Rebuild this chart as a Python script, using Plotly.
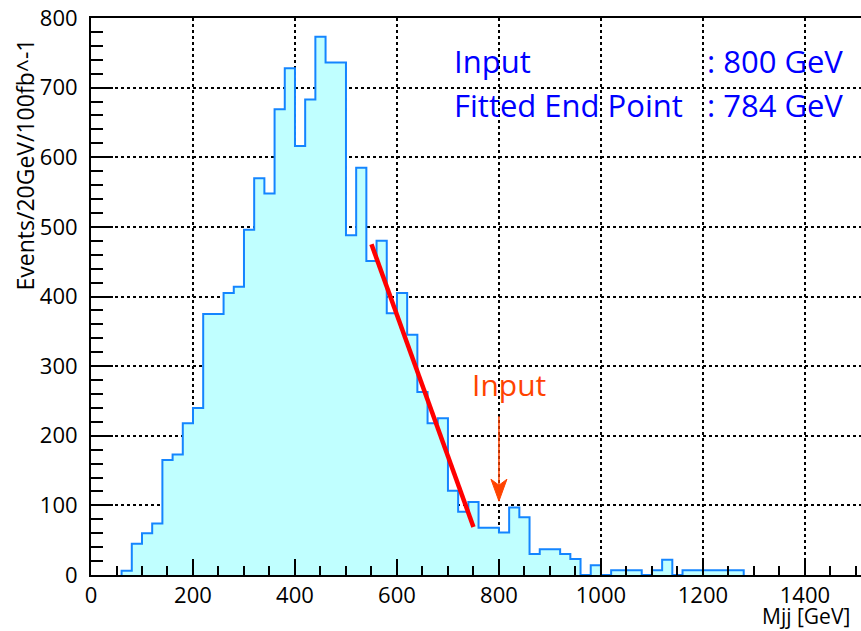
import numpy as np
import plotly.graph_objects as go

# Dijet invariant mass spectrum, 20 GeV bins starting at 60 GeV
bin_start = 60
bin_width = 20
counts = [
    6, 45, 60, 74, 165, 173, 218, 240, 375, 375,
    405, 414, 496, 570, 548, 669, 728, 616, 683, 773,
    736, 736, 488, 585, 451, 480, 376, 405, 345, 263,
    218, 225, 121, 91, 105, 68, 68, 61, 97, 83,
    30, 37, 37, 30, 23, 0, 14, 0, 7, 7,
    7, 0, 7, 22, 0, 7, 7, 7, 7, 7,
    7,
]

# Linear end-point fit of the falling edge
input_mass = 800
fit_end = 784
fit_slope = 2.03          # events per GeV
fit_range = [550, 750]

# Arrow marking the input mass
arrow_tail = 228
arrow_tip = 106

x_ticks = [0, 200, 400, 600, 800, 1000, 1200, 1400]
y_ticks = [0, 100, 200, 300, 400, 500, 600, 700, 800]

FONT = "Open Sans"
HIST_LINE = "#1485ff"
HIST_FILL = "#c0ffff"
TEXT_BLUE = "#0000ff"
ORANGE = "#ff4300"

# step outline of the histogram
lefts = bin_start + bin_width * np.arange(len(counts))
right_end = lefts[-1] + bin_width
xs = [lefts[0]] + list(lefts) + [right_end, right_end]
ys = [0] + list(counts) + [counts[-1], 0]

fig = go.Figure()
fig.add_trace(go.Scatter(
    x=xs, y=ys, mode="lines", line_shape="hv",
    line=dict(color=HIST_LINE, width=2),
    fill="tozeroy", fillcolor=HIST_FILL, hoverinfo="skip",
))

fx = np.array(fit_range, dtype=float)
fy = fit_slope * (fit_end - fx)
fig.add_trace(go.Scatter(
    x=fx, y=fy, mode="lines",
    line=dict(color="#ff0000", width=4.5), hoverinfo="skip",
))

# arrow shaft and head
fig.add_shape(type="line", xref="x", yref="y",
              x0=input_mass, x1=input_mass, y0=arrow_tail, y1=arrow_tip + 10,
              line=dict(color=ORANGE, width=1.5))
fig.add_shape(type="path", xref="x", yref="y",
              xsizemode="pixel", ysizemode="pixel",
              xanchor=input_mass, yanchor=arrow_tip,
              path="M0,0 L-8,22 L0,16 L8,22 Z",
              fillcolor=ORANGE, line=dict(color=ORANGE, width=1))

annotations = [
    dict(text="Input", x=820, y=274, xref="x", yref="y",
         font=dict(family=FONT, size=30, color=ORANGE), showarrow=False,
         xanchor="center", yanchor="middle"),
    dict(text="Input", x=0.4688, y=0.922, xref="paper", yref="paper",
         font=dict(family=FONT, size=31, color=TEXT_BLUE), showarrow=False,
         xanchor="left", yanchor="middle"),
    dict(text=f": {input_mass} GeV", x=0.797, y=0.922, xref="paper", yref="paper",
         font=dict(family=FONT, size=31, color=TEXT_BLUE), showarrow=False,
         xanchor="left", yanchor="middle"),
    dict(text="Fitted End Point", x=0.4688, y=0.843, xref="paper", yref="paper",
         font=dict(family=FONT, size=31, color=TEXT_BLUE), showarrow=False,
         xanchor="left", yanchor="middle"),
    dict(text=f": {fit_end} GeV", x=0.797, y=0.843, xref="paper", yref="paper",
         font=dict(family=FONT, size=31, color=TEXT_BLUE), showarrow=False,
         xanchor="left", yanchor="middle"),
    dict(text="Mjj [GeV]", x=0.988, y=-0.074, xref="paper", yref="paper",
         font=dict(family=FONT, size=21, color="black"), showarrow=False,
         xanchor="right", yanchor="middle"),
    dict(text="Events/20GeV/100fb^-1", x=-0.0857, y=0.737, xref="paper", yref="paper",
         textangle=-90,
         font=dict(family=FONT, size=23, color="black"), showarrow=False,
         xanchor="center", yanchor="middle"),
]

fig.update_layout(
    width=861, height=631,
    margin=dict(l=91, r=0, t=18, b=56),
    plot_bgcolor="white", paper_bgcolor="white",
    showlegend=False,
    font=dict(family=FONT, size=22, color="black"),
    annotations=annotations,
)

fig.update_xaxes(
    range=[0, 1510], tickvals=x_ticks, ticktext=[str(v) for v in x_ticks],
    ticks="inside", ticklen=16, tickwidth=2, tickcolor="black",
    minor=dict(dtick=50, tick0=0, ticks="inside", ticklen=9, tickwidth=2,
               tickcolor="black", showgrid=False),
    showline=True, linecolor="black", linewidth=2, mirror=True,
    showgrid=True, gridcolor="black", gridwidth=1.5, griddash="dot",
    zeroline=False, tickfont=dict(family=FONT, size=22),
)
fig.update_yaxes(
    range=[0, 800], tickvals=y_ticks, ticktext=[str(v) for v in y_ticks],
    ticks="inside", ticklen=22, tickwidth=2, tickcolor="black",
    minor=dict(dtick=20, tick0=0, ticks="inside", ticklen=12, tickwidth=2,
               tickcolor="black", showgrid=False),
    showline=True, linecolor="black", linewidth=2,
    showgrid=True, gridcolor="black", gridwidth=1.5, griddash="dot",
    zeroline=False, tickfont=dict(family=FONT, size=22),
    ticklabelstandoff=7,
)

fig.write_html("out.html")
